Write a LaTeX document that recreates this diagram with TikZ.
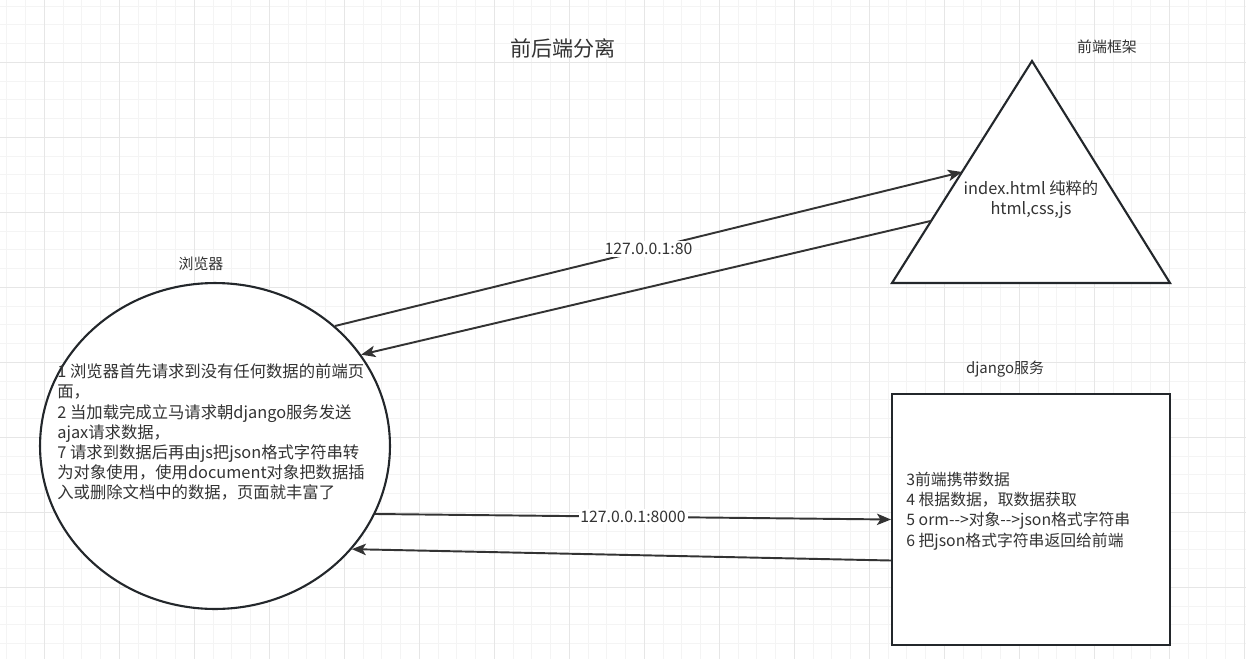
\documentclass[tikz,border=0pt]{standalone}
\usepackage{fontspec}
\setmainfont{Noto Sans CJK SC}
\usetikzlibrary{shapes.geometric,arrows.meta,calc}
\definecolor{ink}{HTML}{333333}
\definecolor{edge}{HTML}{23272B}
\definecolor{gridminor}{HTML}{F4F4F4}
\definecolor{gridmajor}{HTML}{E6E6E6}

\begin{document}
\begin{tikzpicture}[x=0.02cm, y=-0.02cm,
    shapeline/.style={draw=edge, line width=1.2pt, fill=white},
    flow/.style={draw=ink, line width=1.1pt, -{Stealth[length=8pt,width=6.5pt,inset=2pt]}},
    lbl/.style={text=ink, inner sep=0pt, font=\fontsize{8.5pt}{10pt}\selectfont},
    body/.style={text=ink, inner sep=0pt, align=left, font=\fontsize{9.3pt}{11.4pt}\selectfont},
    addr/.style={fill=white, inner sep=1pt, text=ink, font=\fontsize{9pt}{11pt}\selectfont}]
    \useasboundingbox (0,0) rectangle (1246,659);
    % grid
    \fill[white] (0,0) rectangle (1246,659);
    \foreach \i in {0,...,66}
        \draw[gridminor, line width=0.6pt] ({6.8+18.75*\i},0) -- ++(0,659);
    \foreach \i in {0,...,34}
        \draw[gridminor, line width=0.6pt] (0,{6.05+18.75*\i}) -- ++(1246,0);
    \foreach \i in {0,...,16}
        \draw[gridmajor, line width=0.6pt] ({44.3+75*\i},0) -- ++(0,659);
    \foreach \i in {0,...,7}
        \draw[gridmajor, line width=0.6pt] (0,{62.3+75*\i}) -- ++(1246,0);
    % titolo
    \node[text=ink, font=\fontsize{12pt}{14pt}\selectfont] (title) at (563,48) {前后端分离};
    % browser
    \node[lbl] (browserlabel) at (201,264) {浏览器};
    \node[shapeline, ellipse, minimum width=7cm, minimum height=6.52cm, inner sep=0pt] (browser) at (215,446) {};
    \node[body, anchor=west] (browsertext) at (57,432) {1 浏览器首先请求到没有任何数据的前端页\\面，\\2 当加载完成立马请求朝django服务发送\\ajax请求数据，\\7 请求到数据后再由js把json格式字符串转\\为对象使用，使用document对象把数据插\\入或删除文档中的数据，页面就丰富了};
    % front-end framework
    \node[lbl] (framelabel) at (1107,47) {前端框架};
    \coordinate (apex) at (1032,61);
    \coordinate (baseL) at (892,283);
    \coordinate (baseR) at (1170,283);
    \draw[shapeline, line join=miter] (apex) -- (baseR) -- (baseL) -- cycle;
    \node[body, align=center] (frametext) at (1031,200) {index.html 纯粹的\\html,css,js};
    % django
    \node[lbl] (djangolabel) at (1005,369) {django服务};
    \node[shapeline, rectangle, minimum width=5.56cm, minimum height=5.02cm, inner sep=0pt] (django) at (1031,519.5) {};
    \node[body, anchor=west, font=\fontsize{9pt}{11.6pt}\selectfont] (djangotext) at (906,511) {3前端携带数据\\4 根据数据，取数据获取\\5 orm-{}-{}>对象-{}-{}>json格式字符串\\6 把json格式字符串返回给前端};
    % arrows
    \draw[flow] (browser.45) -- node[addr] {127.0.0.1:80} ($(baseL)!0.5!(apex)$);
    \draw[flow] ($(baseL)!0.28!(apex)$) -- (browser.32.6);
    \draw[flow] (browser.-23.7) -- node[addr] {127.0.0.1:8000} (django.west);
    \draw[flow] ($(django.west)+(0,41)$) -- (browser.-37);
\end{tikzpicture}
\end{document}
